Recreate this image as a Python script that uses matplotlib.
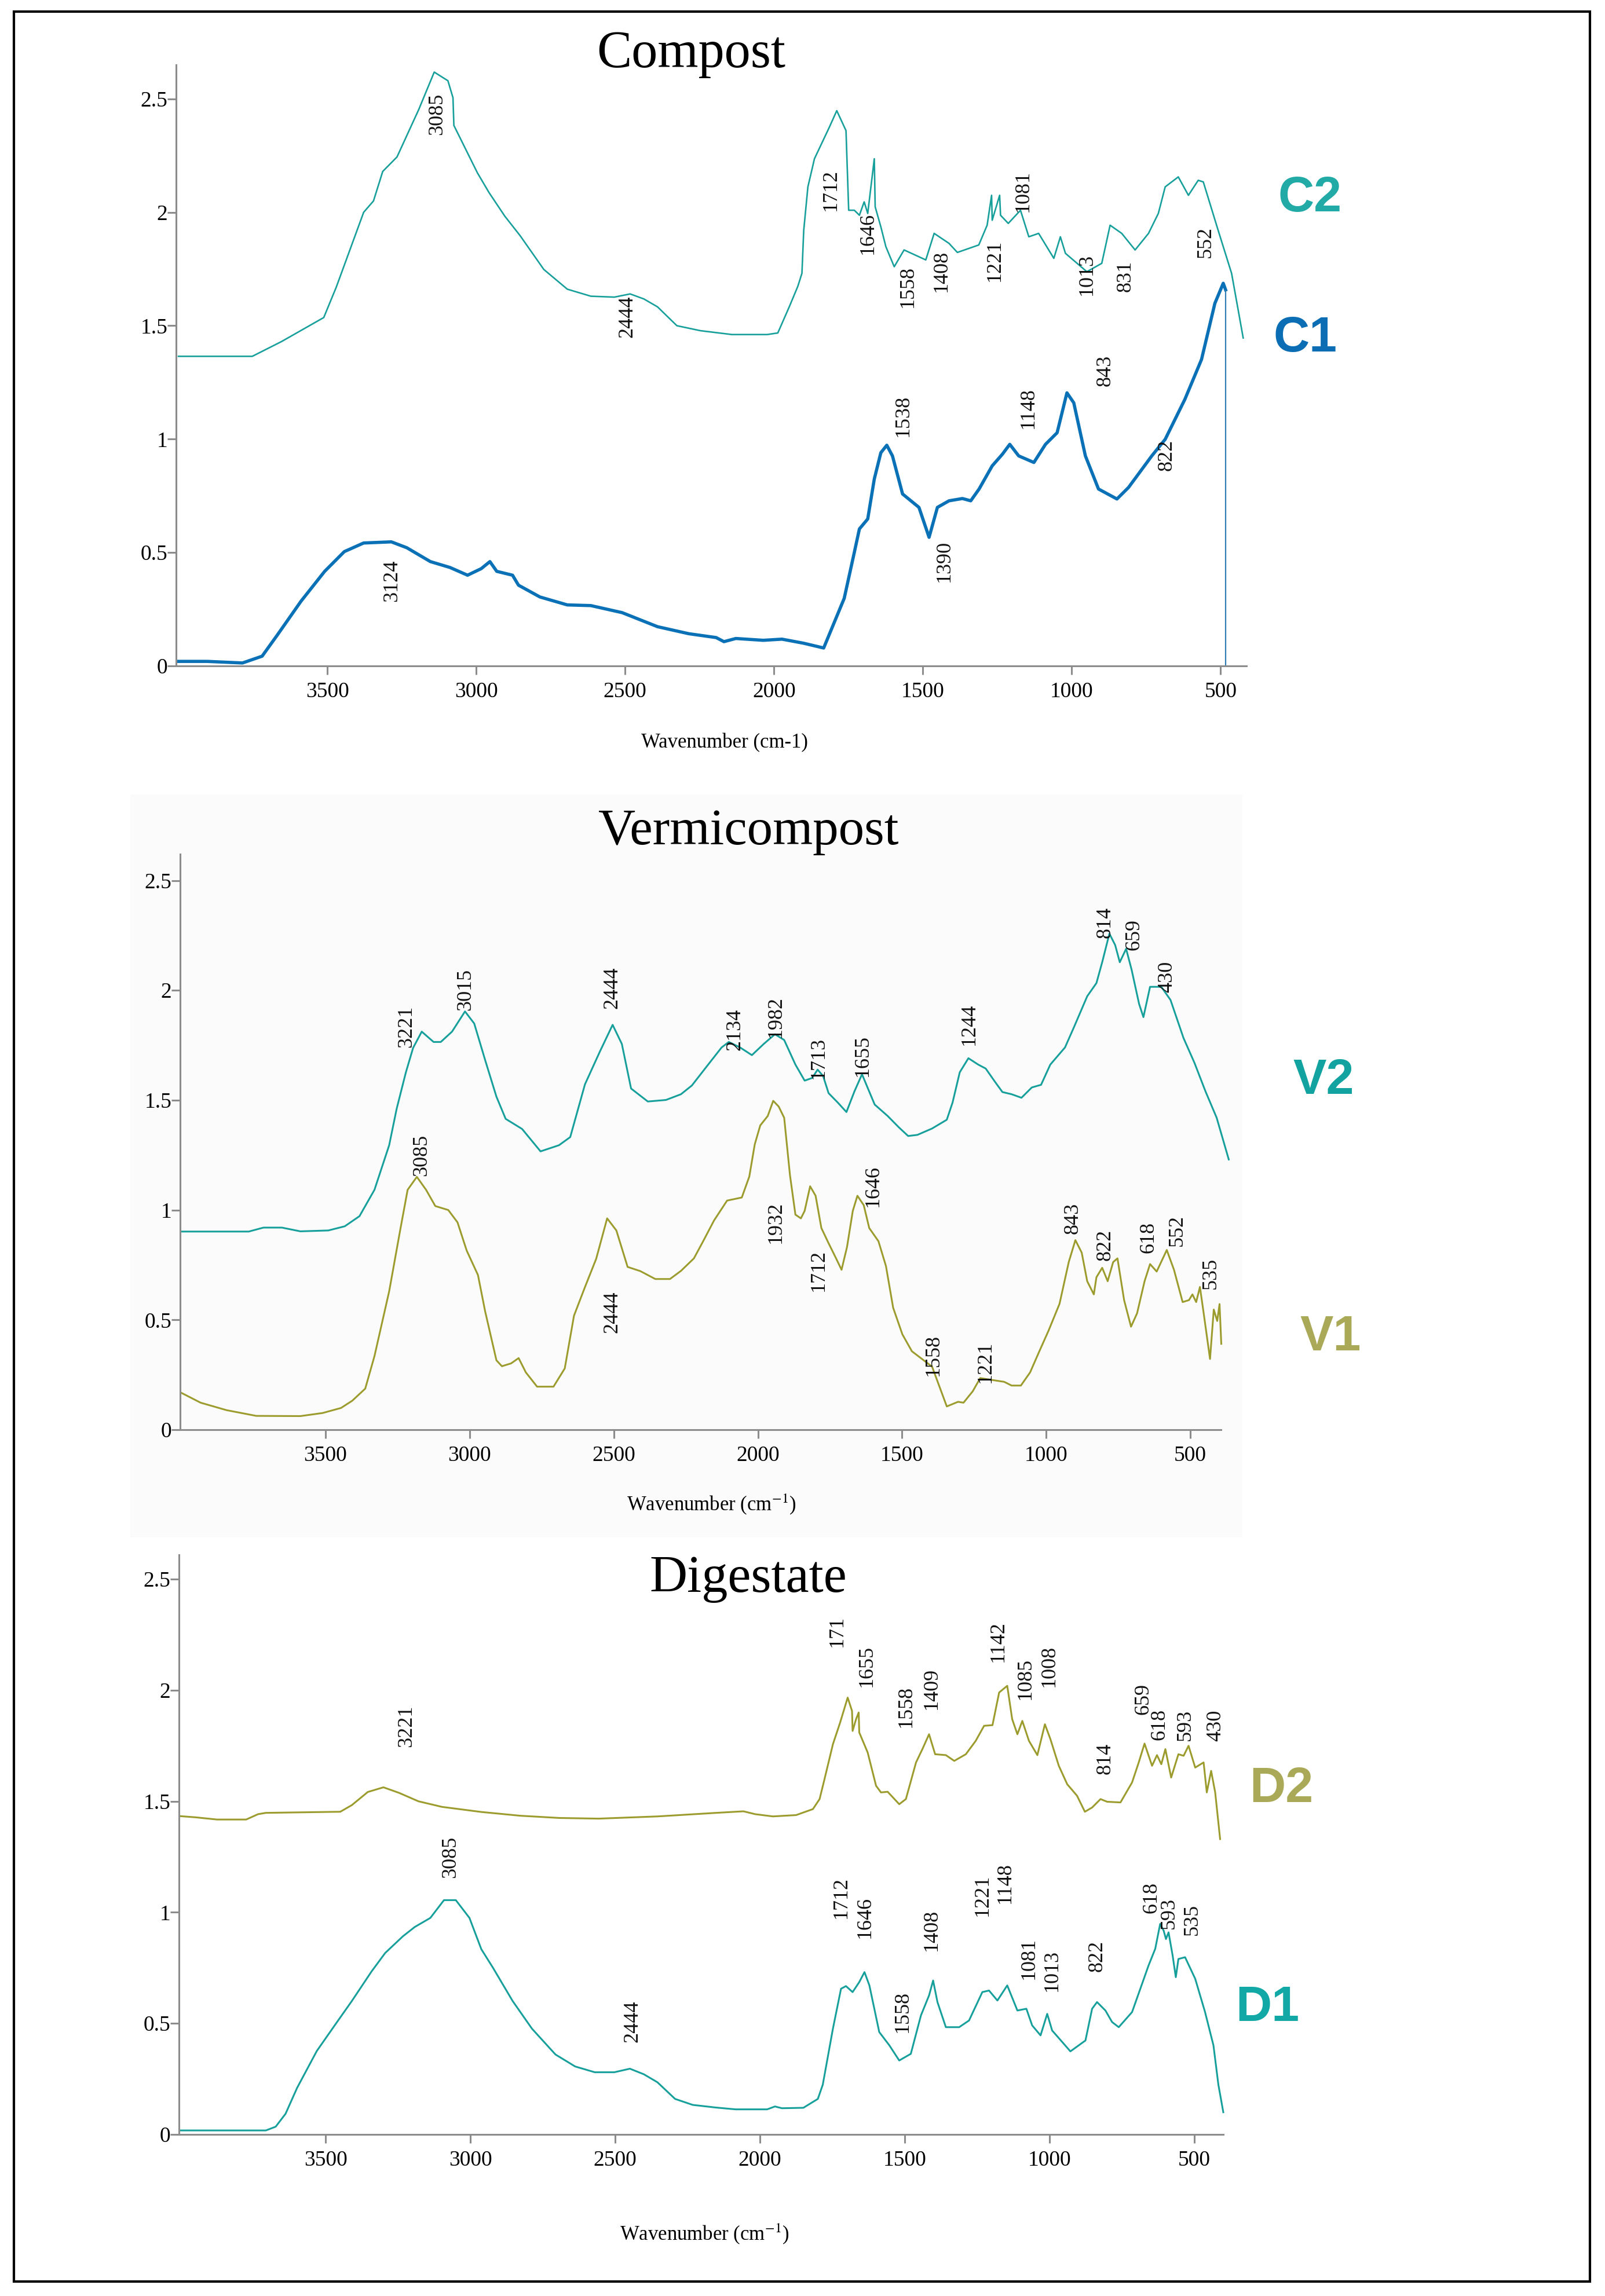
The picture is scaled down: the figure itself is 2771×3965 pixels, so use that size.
import matplotlib
matplotlib.use("Agg")
import matplotlib.pyplot as plt
from matplotlib.patches import Rectangle

plt.rcParams['font.family'] = ['Liberation Serif', 'DejaVu Serif']
plt.rcParams['mathtext.fontset'] = 'stix'

# ---------------- data (wavenumber cm-1, absorbance) ----------------
# Compost
c2_w = [4000, 3752, 3654, 3512, 3470, 3378, 3345, 3314, 3266, 3193, 3141, 3095, 3078, 3075,
        2996, 2957, 2904, 2852, 2773, 2694, 2615, 2536, 2483, 2437, 2391, 2326, 2247, 2141,
        2023, 1987, 1948, 1920, 1906, 1900, 1886, 1864, 1814, 1789, 1758, 1749, 1730, 1713,
        1697, 1685, 1663, 1660, 1641, 1624, 1596, 1563, 1490, 1462, 1412, 1384, 1312, 1284,
        1269, 1267, 1242, 1239, 1213, 1172, 1144, 1111, 1060, 1038, 1021, 949, 899, 871, 832,
        787, 742, 709, 686, 642, 608, 575, 558, 508, 463, 424]
c2_a = [1.365, 1.365, 1.43, 1.536, 1.67, 2.00, 2.05, 2.18, 2.244, 2.453, 2.618, 2.58, 2.505, 2.383,
        2.174, 2.087, 1.983, 1.896, 1.748, 1.661, 1.63, 1.626, 1.64, 1.618, 1.583, 1.50, 1.478, 1.461,
        1.461, 1.468, 1.585, 1.673, 1.731, 1.92, 2.112, 2.236, 2.375, 2.448, 2.36, 2.009, 2.009, 1.987,
        2.046, 1.995, 2.236, 2.024, 1.936, 1.848, 1.76, 1.834, 1.79, 1.907, 1.863, 1.823, 1.856, 1.943,
        2.075, 1.965, 2.075, 1.987, 1.951, 2.009, 1.892, 1.907, 1.797, 1.892, 1.819, 1.738, 1.775, 1.943, 1.907,
        1.834, 1.907, 1.995, 2.112, 2.156, 2.075, 2.141, 2.134, 1.92, 1.731, 1.446]

c1_w = [4000, 3903, 3785, 3719, 3667, 3588, 3509, 3443, 3378, 3285, 3233, 3154, 3088, 3029,
        2983, 2954, 2931, 2878, 2858, 2786, 2694, 2615, 2510, 2391, 2286, 2194, 2168, 2128,
        2036, 1973, 1900, 1833, 1764, 1730, 1713, 1685, 1663, 1641, 1621, 1602, 1568, 1540,
        1513, 1479, 1451, 1412, 1367, 1339, 1311, 1267, 1233, 1208, 1178, 1127, 1088, 1049,
        1016, 993, 954, 910, 848, 809, 731, 686, 620, 564, 519, 491, 483]
c1_a = [0.02, 0.02, 0.013, 0.043, 0.138, 0.286, 0.417, 0.504, 0.542, 0.547, 0.521, 0.46, 0.434, 0.40,
        0.429, 0.46, 0.417, 0.40, 0.356, 0.304, 0.269, 0.266, 0.235, 0.173, 0.142, 0.125, 0.107, 0.121,
        0.113, 0.118, 0.10, 0.079, 0.298, 0.501, 0.604, 0.648, 0.824, 0.94, 0.973, 0.926, 0.758, 0.728,
        0.699, 0.567, 0.699, 0.728, 0.738, 0.728, 0.78, 0.882, 0.933, 0.977, 0.926, 0.897, 0.977, 1.028,
        1.204, 1.16, 0.926, 0.78, 0.736, 0.787, 0.926, 0.999, 1.175, 1.351, 1.599, 1.687, 1.658]

# Vermicompost
v2_w = [4000, 3766, 3715, 3651, 3587, 3490, 3433, 3382, 3330, 3279, 3253, 3221, 3196, 3166,
        3125, 3100, 3061, 3016, 2984, 2946, 2907, 2875, 2818, 2754, 2690, 2651, 2600, 2549,
        2504, 2472, 2440, 2382, 2319, 2267, 2229, 2178, 2126, 2101, 2062, 2021, 1979, 1941,
        1909, 1870, 1838, 1812, 1793, 1774, 1755, 1723, 1693, 1665, 1639, 1620, 1595, 1550,
        1511, 1479, 1447, 1396, 1345, 1325, 1300, 1270, 1236, 1210, 1178, 1152, 1120, 1086,
        1050, 1018, 986, 935, 903, 858, 826, 806, 781, 761, 745, 723, 704, 678, 663, 640, 601,
        569, 524, 486, 448, 409, 367]
v2_a = [0.902, 0.902, 0.92, 0.92, 0.903, 0.907, 0.926, 0.972, 1.092, 1.295, 1.461, 1.627, 1.738, 1.812,
        1.765, 1.765, 1.812, 1.904, 1.849, 1.682, 1.516, 1.415, 1.369, 1.267, 1.295, 1.332, 1.572, 1.719,
        1.843, 1.756, 1.553, 1.494, 1.501, 1.527, 1.567, 1.653, 1.74, 1.765, 1.74, 1.705, 1.757, 1.80,
        1.774, 1.662, 1.589, 1.601, 1.639, 1.61, 1.532, 1.489, 1.446, 1.541, 1.618, 1.558, 1.48, 1.428,
        1.376, 1.337, 1.342, 1.371, 1.411, 1.489, 1.627, 1.691, 1.662, 1.644, 1.584, 1.537, 1.527, 1.511,
        1.558, 1.57, 1.662, 1.74, 1.835, 1.973, 2.033, 2.128, 2.258, 2.206, 2.128, 2.189, 2.094, 1.938, 1.878, 2.016, 2.016,
        1.956, 1.783, 1.67, 1.541, 1.42, 1.23]

v1_w = [4000, 3933, 3843, 3740, 3587, 3510, 3446, 3407, 3362, 3330, 3279, 3241, 3215, 3183,
        3151, 3119, 3074, 3042, 3010, 2971, 2946, 2907, 2888, 2856, 2830, 2805, 2766, 2709,
        2670, 2638, 2600, 2561, 2523, 2491, 2452, 2408, 2356, 2305, 2267, 2222, 2190, 2152,
        2107, 2056, 2030, 2011, 1992, 1966, 1947, 1928, 1909, 1889, 1870, 1851, 1838, 1819,
        1800, 1780, 1755, 1729, 1710, 1691, 1671, 1655, 1633, 1614, 1582, 1556, 1531, 1499,
        1466, 1422, 1396, 1345, 1306, 1287, 1255, 1229, 1191, 1146, 1120, 1088, 1056, 1024,
        992, 954, 922, 899, 877, 858, 835, 826, 806, 787, 768, 753, 730, 706, 685, 659, 640,
        617, 582, 557, 527, 505, 493, 480, 467, 454, 432, 419, 407, 399, 393]
v1_a = [0.168, 0.123, 0.089, 0.063, 0.062, 0.076, 0.099, 0.132, 0.187, 0.335, 0.63, 0.907, 1.092, 1.151,
        1.092, 1.018, 1.0, 0.944, 0.815, 0.704, 0.538, 0.316, 0.289, 0.302, 0.326, 0.261, 0.196, 0.196,
        0.279, 0.519, 0.649, 0.778, 0.962, 0.907, 0.741, 0.722, 0.686, 0.686, 0.723, 0.78, 0.858, 0.953,
        1.043, 1.057, 1.152, 1.299, 1.385, 1.428, 1.497, 1.471, 1.42, 1.16, 0.979, 0.962, 0.996, 1.108,
        1.065, 0.918, 0.849, 0.78, 0.728, 0.832, 0.996, 1.065, 1.022, 0.918, 0.858, 0.745, 0.555, 0.434,
        0.357, 0.313, 0.287, 0.106, 0.127, 0.123, 0.175, 0.235, 0.227, 0.218, 0.201, 0.201, 0.261, 0.357,
        0.451, 0.573, 0.763, 0.863, 0.806, 0.676, 0.616, 0.694, 0.737, 0.676, 0.763, 0.78, 0.59, 0.469, 0.53, 0.676, 0.754,
        0.72, 0.818, 0.728, 0.581, 0.59, 0.616, 0.581, 0.65, 0.53, 0.322, 0.547, 0.495, 0.572, 0.391]

# Digestate
d2_w = [4000, 3949, 3875, 3774, 3733, 3706, 3449, 3409, 3354, 3300, 3246, 3179, 3098, 2962,
        2827, 2692, 2557, 2354, 2151, 2057, 2016, 1955, 1875, 1817, 1794, 1777, 1748, 1723,
        1697, 1682, 1680, 1668, 1659, 1657, 1628, 1599, 1582, 1559, 1519, 1496, 1461, 1439,
        1416, 1395, 1358, 1329, 1289, 1255, 1226, 1197, 1174, 1146, 1129, 1111, 1094, 1071,
        1042, 1016, 997, 968, 939, 905, 878, 853, 824, 801, 755, 715, 692, 672, 646, 629, 614,
        600, 580, 555, 537, 520, 497, 468, 457, 442, 428, 411]
d2_a = [1.433, 1.428, 1.418, 1.418, 1.442, 1.448, 1.453, 1.483, 1.542, 1.563, 1.538, 1.50, 1.475, 1.452,
        1.435, 1.425, 1.422, 1.432, 1.448, 1.455, 1.442, 1.432, 1.438, 1.465, 1.51, 1.60, 1.757, 1.855,
        1.967, 1.907, 1.817, 1.87, 1.90, 1.81, 1.72, 1.57, 1.54, 1.543, 1.487, 1.51, 1.675, 1.735,
        1.802, 1.712, 1.708, 1.682, 1.712, 1.772, 1.84, 1.843, 1.99, 2.02, 1.87, 1.802, 1.862, 1.772,
        1.708, 1.847, 1.78, 1.66, 1.577, 1.525, 1.453, 1.472, 1.51, 1.498, 1.495, 1.585, 1.675, 1.76, 1.66, 1.708, 1.667,
        1.735, 1.607, 1.712, 1.705, 1.75, 1.652, 1.675, 1.54, 1.637, 1.54, 1.33]

d1_w = [4000, 3706, 3672, 3638, 3598, 3530, 3463, 3409, 3341, 3294, 3233, 3192, 3138, 3091,
        3050, 3003, 2962, 2922, 2854, 2787, 2706, 2638, 2570, 2503, 2449, 2401, 2354, 2293,
        2232, 2151, 2084, 1975, 1948, 1924, 1850, 1800, 1783, 1748, 1720, 1703, 1680, 1657,
        1639, 1622, 1588, 1553, 1519, 1479, 1444, 1416, 1402, 1387, 1358, 1312, 1278, 1232,
        1209, 1180, 1146, 1111, 1080, 1060, 1031, 1008, 991, 956, 928, 876, 853, 836, 807, 784,
        761, 715, 658, 635, 618, 606, 598, 589, 575, 564, 555, 532, 497, 463, 434, 417, 400]
d1_a = [0.018, 0.018, 0.035, 0.093, 0.21, 0.376, 0.501, 0.601, 0.734, 0.817, 0.892, 0.934, 0.975, 1.055,
        1.055, 0.975, 0.834, 0.751, 0.601, 0.476, 0.36, 0.306, 0.28, 0.28, 0.296, 0.271, 0.235, 0.16,
        0.133, 0.121, 0.113, 0.113, 0.126, 0.118, 0.12, 0.16, 0.224, 0.476, 0.656, 0.668, 0.641, 0.686,
        0.731, 0.671, 0.461, 0.401, 0.333, 0.363, 0.536, 0.626, 0.693, 0.596, 0.483, 0.483, 0.513, 0.641,
        0.648, 0.603, 0.671, 0.558, 0.566, 0.491, 0.446, 0.543, 0.468, 0.416, 0.374, 0.423, 0.566, 0.596, 0.558, 0.506,
        0.483, 0.551, 0.761, 0.836, 0.948, 0.918, 0.88, 0.91, 0.806, 0.708, 0.79, 0.798, 0.701, 0.551, 0.401, 0.224, 0.10]

# peak labels: (text, wavenumber, absorbance) where the label sits
compost_peaks = [("3085", 3132, 2.433), ("2444", 2493, 1.539), ("1712", 1809, 2.099),
                 ("1646", 1685, 1.906), ("1558", 1551, 1.671), ("1408", 1438, 1.741),
                 ("1221", 1259, 1.788), ("1081", 1163, 2.093), ("1013", 950, 1.726),
                 ("831", 819, 1.719), ("552", 551, 1.869), ("843", 888, 1.302),
                 ("1148", 1146, 1.137), ("1538", 1565, 1.104), ("822", 682, 0.929),
                 ("1390", 1427, 0.463), ("3124", 3283, 0.375)]
vermi_peaks = [("3221", 3220, 1.834), ("3015", 3014, 2.004), ("2444", 2506, 2.011),
               ("2134", 2080, 1.823), ("1982", 1938, 1.88), ("1713", 1789, 1.692),
               ("1655", 1636, 1.703), ("1244", 1267, 1.846), ("814", 795, 2.31),
               ("659", 695, 2.254), ("430", 582, 2.061),
               ("3085", 3167, 1.25), ("2444", 2506, 0.536), ("1932", 1938, 0.944),
               ("1712", 1789, 0.724), ("1646", 1601, 1.11), ("1558", 1391, 0.339),
               ("1221", 1210, 0.31), ("843", 908, 0.962), ("822", 795, 0.842),
               ("618", 646, 0.876), ("552", 546, 0.906), ("535", 429, 0.713)]
digest_peaks = [("3221", 3221, 1.84), ("171", 1733, 2.267), ("1655", 1631, 2.109),
                ("1558", 1496, 1.928), ("1409", 1408, 2.009), ("1142", 1178, 2.219),
                ("1085", 1083, 2.052), ("1008", 1002, 2.109), ("814", 807, 1.693),
                ("659", 677, 1.96), ("618", 620, 1.847), ("593", 532, 1.844),
                ("430", 426, 1.84),
                ("3085", 3069, 1.249), ("2444", 2440, 0.508), ("1712", 1719, 1.067),
                ("1646", 1638, 0.979), ("1558", 1507, 0.554), ("1408", 1408, 0.92),
                ("1221", 1231, 1.078), ("1148", 1154, 1.133), ("1081", 1072, 0.793),
                ("1013", 991, 0.738), ("822", 836, 0.804), ("618", 648, 1.067),
                ("593", 588, 0.997), ("535", 507, 0.968)]

W, H = 2771, 3965
TEAL = '#17a09b'
BLUE = '#0a71b6'
OLIVE = '#9c9c2e'
LABEL_OLIVE = '#a9a957'
AXIS_GREY = '#8c8c8c'


def fx(px):
    return px / W


def fy(py):
    return 1 - py / H


def make_axes(fig, left, right, top, bottom, xlim, ylim):
    ax = fig.add_axes([fx(left), fy(bottom), fx(right - left), (bottom - top) / H])
    ax.patch.set_alpha(0)
    ax.set_zorder(2)
    ax.set_xlim(*xlim)
    ax.set_ylim(*ylim)
    for s in ['top', 'right']:
        ax.spines[s].set_visible(False)
    for s in ['left', 'bottom']:
        ax.spines[s].set_color(AXIS_GREY)
        ax.spines[s].set_linewidth(2.2)
    ax.set_xticks([3500, 3000, 2500, 2000, 1500, 1000, 500])
    ax.set_yticks([0, 0.5, 1, 1.5, 2, 2.5])
    ax.set_yticklabels(['0', '0.5', '1', '1.5', '2', '2.5'])
    ax.tick_params(direction='out', length=10.5, width=2.2, color=AXIS_GREY,
                   labelsize=27, labelcolor='black')
    ax.tick_params(axis='y', pad=0)
    ax.tick_params(axis='x', pad=9)
    return ax


def peak_labels(ax, peaks):
    for txt, x, y in peaks:
        ax.text(x, y, txt, rotation=90, ha='center', va='center', fontsize=26,
                color='#111111', clip_on=False)


fig = plt.figure(figsize=(W / 100, H / 100), dpi=100, facecolor='white')

# very faint backdrop of the middle panel and outer frame
fig.patches.append(Rectangle((fx(225), fy(2655)), fx(2145 - 225), (2655 - 1372) / H,
                             transform=fig.transFigure, facecolor='#fbfbfb', edgecolor='none', zorder=-5))
fig.patches.append(Rectangle((fx(24), fy(3940)), fx(2745 - 24), (3940 - 20) / H,
                             transform=fig.transFigure, facecolor='none', edgecolor='black',
                             linewidth=3, zorder=5))

# ---------------- Compost ----------------
ax1 = make_axes(fig, 304, 2152, 112, 1150, (4008, 413), (0, 2.65))
ax1.plot(c2_w, c2_a, color=TEAL, lw=1.9, clip_on=False)
ax1.plot(c1_w, c1_a, color=BLUE, lw=4.0, clip_on=False, solid_joinstyle='round')
ax1.vlines(c1_w[-1], 0, c1_a[-1], color='#2f7fb5', lw=1.6)
peak_labels(ax1, compost_peaks)
fig.text(fx(1193), fy(116), 'Compost', ha='center', va='baseline', fontsize=65)
fig.text(fx(1251), fy(1283), 'Wavenumber (cm-1)', ha='center', va='center', fontsize=25)
fig.text(fx(2262), fy(343), 'C2', ha='center', va='center', fontsize=62, fontweight='bold',
         color='#22aaa6', family='Liberation Sans')
fig.text(fx(2253), fy(585), 'C1', ha='center', va='center', fontsize=62, fontweight='bold',
         color='#0b6db3', family='Liberation Sans')

# ---------------- Vermicompost ----------------
ax2 = make_axes(fig, 311, 2108, 1475, 2469, (4004, 394), (0, 2.62))
ax2.plot(v2_w, v2_a, color=TEAL, lw=2.2, clip_on=False)
ax2.plot(v1_w, v1_a, color=OLIVE, lw=2.2, clip_on=False)
peak_labels(ax2, vermi_peaks)
fig.text(fx(1292), fy(1458), 'Vermicompost', ha='center', va='baseline', fontsize=64)
fig.text(fx(1228), fy(2598), 'Wavenumber (cm$^{-1}$)', ha='center', va='center', fontsize=25)
fig.text(fx(2285), fy(1867), 'V2', ha='center', va='center', fontsize=62, fontweight='bold',
         color='#12a3a0', family='Liberation Sans')
fig.text(fx(2297), fy(2310), 'V1', ha='center', va='center', fontsize=62, fontweight='bold',
         color=LABEL_OLIVE, family='Liberation Sans')

# ---------------- Digestate ----------------
ax3 = make_axes(fig, 309, 2112, 2685, 3686, (4006, 400), (0, 2.61))
ax3.plot(d2_w, d2_a, color=OLIVE, lw=2.2, clip_on=False)
ax3.plot(d1_w, d1_a, color=TEAL, lw=2.2, clip_on=False)
peak_labels(ax3, digest_peaks)
fig.text(fx(1292), fy(2749), 'Digestate', ha='center', va='baseline', fontsize=65)
fig.text(fx(1216), fy(3858), 'Wavenumber (cm$^{-1}$)', ha='center', va='center', fontsize=25)
fig.text(fx(2212), fy(3090), 'D2', ha='center', va='center', fontsize=62, fontweight='bold',
         color=LABEL_OLIVE, family='Liberation Sans')
fig.text(fx(2188), fy(3468), 'D1', ha='center', va='center', fontsize=62, fontweight='bold',
         color='#12a8a6', family='Liberation Sans')

fig.savefig('out.png', dpi=100, facecolor='white')
